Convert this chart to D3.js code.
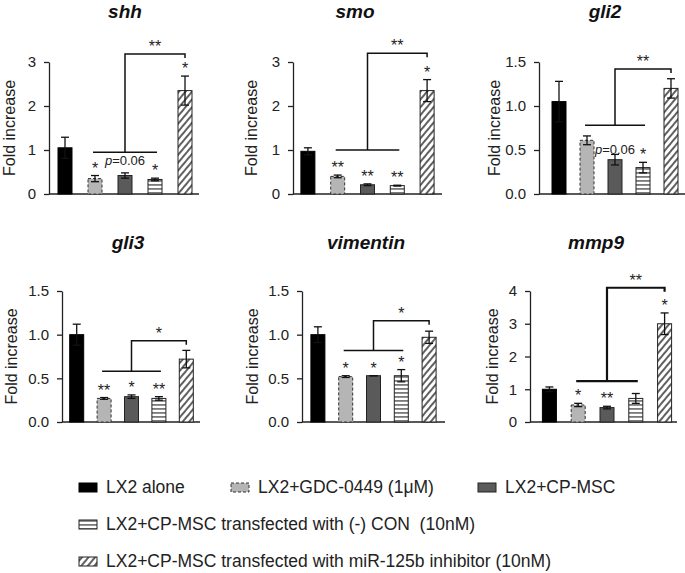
<!DOCTYPE html>
<html>
<head>
<meta charset="utf-8">
<script src="https://cdn.jsdelivr.net/npm/d3@7"></script>
<style>
  body { margin: 0; background: #fff; }
  svg { display: block; font-family: "Liberation Sans", Arial, sans-serif; }
</style>
</head>
<body>
<svg id="chart" width="685" height="573"></svg>
<script>
// treatment groups (same order in every panel)
const groups = [
  'LX2 alone',
  'LX2+GDC-0449 (1μM)',
  'LX2+CP-MSC',
  'LX2+CP-MSC transfected with (-) CON  (10nM)',
  'LX2+CP-MSC transfected with miR-125b inhibitor (10nM)'
];
const genes = ['shh', 'smo', 'gli2', 'gli3', 'vimentin', 'mmp9'];

// fold increase, mean and error
const shhMean = [1.05, 0.35, 0.42, 0.33, 2.35];
const shhErr  = [0.24, 0.07, 0.06, 0.03, 0.33];
const smoMean = [0.97, 0.40, 0.21, 0.19, 2.35];
const smoErr  = [0.08, 0.03, 0.02, 0.01, 0.25];
const gli2Mean = [1.05, 0.61, 0.39, 0.30, 1.20];
const gli2Err  = [0.23, 0.05, 0.06, 0.06, 0.11];
const gli3Mean = [1.00, 0.27, 0.29, 0.27, 0.72];
const gli3Err  = [0.12, 0.01, 0.02, 0.02, 0.10];
const vimMean = [1.00, 0.52, 0.53, 0.53, 0.97];
const vimErr  = [0.09, 0.01, 0.00, 0.07, 0.07];
const mmp9Mean = [1.00, 0.52, 0.44, 0.72, 3.00];
const mmp9Err  = [0.07, 0.05, 0.04, 0.15, 0.33];

// y tick values
const ticksInt = [0, 1, 2, 3];
const ticksHalf = [0, 0.5, 1.0, 1.5];
const ticksMmp9 = [0, 1, 2, 3, 4];

// significance marks above each bar
const shhStars = ['', '*', 'p=0.06', '*', '*'];
const smoStars = ['', '**', '**', '**', '*'];
const gli2Stars = ['', '', 'p=0.06', '*', ''];
const gli3Stars = ['', '**', '*', '**', ''];
const vimStars = ['', '*', '*', '*', ''];
const mmp9Stars = ['', '*', '**', '', '*'];

// bracket: [lower line level, upper line level, label]
const shhBracket = [0.95, 3.18, '**'];
const smoBracket = [1.0, 3.2, '**'];
const gli2Bracket = [0.78, 1.42, '**'];
const gli3Bracket = [0.58, 0.93, '*'];
const vimBracket = [0.82, 1.16, '*'];
const mmp9Bracket = [1.25, 4.1, '**'];

const panels = [
  { gene: genes[0], mean: shhMean, err: shhErr, ticks: ticksInt, fmt: 'd', stars: shhStars, bracket: shhBracket },
  { gene: genes[1], mean: smoMean, err: smoErr, ticks: ticksInt, fmt: 'd', stars: smoStars, bracket: smoBracket },
  { gene: genes[2], mean: gli2Mean, err: gli2Err, ticks: ticksHalf, fmt: '.1f', stars: gli2Stars, bracket: gli2Bracket },
  { gene: genes[3], mean: gli3Mean, err: gli3Err, ticks: ticksHalf, fmt: '.1f', stars: gli3Stars, bracket: gli3Bracket },
  { gene: genes[4], mean: vimMean, err: vimErr, ticks: ticksHalf, fmt: '.1f', stars: vimStars, bracket: vimBracket },
  { gene: genes[5], mean: mmp9Mean, err: mmp9Err, ticks: ticksMmp9, fmt: 'd', stars: mmp9Stars, bracket: mmp9Bracket }
];

// pixel layout of each panel
const layout = [
  { ax: 49, end: 199, bands: [50, 200], top: 62, base: 194, labelX: 9, titleX: 125, titleY: 18, pLift: 12, bw: 1.5 },
  { ax: 293, end: 442, bands: [293, 442], top: 62, base: 194, labelX: 251, titleX: 355, titleY: 18, pLift: 12, bw: 1.5 },
  { ax: 539, end: 685, bands: [545, 685], top: 62, base: 194, labelX: 494, titleX: 605, titleY: 18, pLift: 4, bw: 1.5 },
  { ax: 62, end: 200, bands: [63, 200], top: 291, base: 422, labelX: 11, titleX: 128, titleY: 249, pLift: 12, bw: 1.5 },
  { ax: 302, end: 445, bands: [304, 443], top: 291, base: 422, labelX: 252, titleX: 366, titleY: 249, pLift: 12, bw: 1.5 },
  { ax: 530, end: 677, bands: [535, 679], top: 291, base: 422, labelX: 492, titleX: 596, titleY: 249, pLift: 12, bw: 2.2 }
];

const svg = d3.select('#chart');
const defs = svg.append('defs');

const stripes = defs.append('pattern')
  .attr('id', 'stripes').attr('patternUnits', 'userSpaceOnUse')
  .attr('width', 6).attr('height', 4);
stripes.append('rect').attr('width', 6).attr('height', 4).attr('fill', '#fff');
stripes.append('rect').attr('width', 6).attr('height', 1.8).attr('fill', '#7a7a7a');

const hatch = defs.append('pattern')
  .attr('id', 'hatch').attr('patternUnits', 'userSpaceOnUse')
  .attr('width', 5).attr('height', 5)
  .attr('patternTransform', 'rotate(40)');
hatch.append('rect').attr('width', 5).attr('height', 5).attr('fill', '#fff');
hatch.append('line').attr('x1', 1).attr('y1', 0).attr('x2', 1).attr('y2', 5)
  .attr('stroke', '#444').attr('stroke-width', 1.7);

const fills = ['#000', '#b5b5b5', '#5a5a5a', 'url(#stripes)', 'url(#hatch)'];
const strokes = ['#000', '#333', '#222', '#222', '#222'];
const dashes = [null, '3,2', null, null, null];
const barW = 14;

panels.forEach((p, i) => {
  const L = layout[i];
  const g = svg.append('g');
  const yMax = p.ticks[p.ticks.length - 1];
  const y = d3.scaleLinear().domain([0, yMax]).range([L.base, L.top]);
  const x = d3.scaleBand().domain(d3.range(groups.length)).range(L.bands).padding(0);
  const cx = k => x(k) + x.bandwidth() / 2;

  // y axis
  const yAxis = g.append('g')
    .attr('transform', `translate(${L.ax},0)`)
    .call(d3.axisLeft(y).tickValues(p.ticks).tickFormat(d3.format(p.fmt))
      .tickSize(5).tickSizeOuter(0).tickPadding(8));
  yAxis.select('.domain').attr('stroke', '#222').attr('stroke-width', 1.3);
  yAxis.selectAll('.tick line').attr('stroke', '#222').attr('stroke-width', 1.3);
  yAxis.selectAll('.tick text').attr('font-size', 15).attr('fill', '#222')
    .attr('font-family', '"Liberation Sans", Arial, sans-serif');

  // baseline
  g.append('line')
    .attr('x1', L.ax).attr('x2', L.end).attr('y1', L.base).attr('y2', L.base)
    .attr('stroke', '#222').attr('stroke-width', 1.3);

  // axis label
  g.append('text')
    .attr('transform', `translate(${L.labelX},${(L.top + L.base) / 2}) rotate(-90)`)
    .attr('text-anchor', 'middle').attr('dominant-baseline', 'central')
    .attr('font-size', 16).attr('fill', '#222')
    .text('Fold increase');

  // title
  g.append('text')
    .attr('x', L.titleX).attr('y', L.titleY)
    .attr('text-anchor', 'middle')
    .attr('font-size', 19).attr('font-weight', 'bold').attr('font-style', 'italic')
    .attr('fill', '#111')
    .text(p.gene);

  // bars
  g.selectAll('rect.bar').data(p.mean).enter().append('rect')
    .attr('class', 'bar')
    .attr('x', (d, k) => cx(k) - barW / 2)
    .attr('width', barW)
    .attr('y', d => y(d))
    .attr('height', d => L.base - y(d))
    .attr('fill', (d, k) => fills[k])
    .attr('stroke', (d, k) => strokes[k])
    .attr('stroke-width', 1)
    .attr('stroke-dasharray', (d, k) => dashes[k]);

  // error bars
  const eb = g.selectAll('g.err').data(p.mean).enter().append('g').attr('class', 'err')
    .attr('stroke', '#111').attr('stroke-width', 1.3);
  eb.append('line')
    .attr('x1', (d, k) => cx(k)).attr('x2', (d, k) => cx(k))
    .attr('y1', (d, k) => y(d - p.err[k])).attr('y2', (d, k) => y(d + p.err[k]));
  eb.append('line')
    .attr('x1', (d, k) => cx(k) - 4).attr('x2', (d, k) => cx(k) + 4)
    .attr('y1', (d, k) => y(d + p.err[k])).attr('y2', (d, k) => y(d + p.err[k]));
  eb.append('line')
    .attr('x1', (d, k) => cx(k) - 4).attr('x2', (d, k) => cx(k) + 4)
    .attr('y1', (d, k) => y(d - p.err[k])).attr('y2', (d, k) => y(d - p.err[k]));

  // marks above bars
  p.stars.forEach((s, k) => {
    if (!s) return;
    const topY = y(p.mean[k] + p.err[k]);
    if (s.startsWith('p=')) {
      const t = g.append('text')
        .attr('x', cx(k)).attr('y', topY - L.pLift + 4)
        .attr('text-anchor', 'middle').attr('font-size', 13).attr('fill', '#222');
      t.append('tspan').attr('font-style', 'italic').text('p');
      t.append('tspan').text(s.slice(1));
    } else {
      g.append('text')
        .attr('x', cx(k)).attr('y', topY - 2)
        .attr('text-anchor', 'middle').attr('font-size', 16).attr('fill', '#222')
        .text(s);
    }
  });

  // bracket
  const [lo, hi, lab] = p.bracket;
  const bg = g.append('g').attr('fill', 'none').attr('stroke', '#111').attr('stroke-width', L.bw);
  bg.append('line').attr('x1', cx(1) - 2).attr('x2', cx(3) + 2).attr('y1', y(lo)).attr('y2', y(lo));
  bg.append('path').attr('d', `M${cx(2)},${y(lo)}V${y(hi)}H${cx(4)}v4`);
  g.append('text')
    .attr('x', (cx(2) + cx(4)) / 2).attr('y', y(hi) - 2)
    .attr('text-anchor', 'middle').attr('font-size', 16).attr('fill', '#222')
    .text(lab);
});

// legend
const legendPos = [
  { x: 79, y: 493 }, { x: 231, y: 493 }, { x: 478, y: 493 },
  { x: 79, y: 530 }, { x: 79, y: 567 }
];
const lg = svg.append('g');
groups.forEach((name, k) => {
  const pos = legendPos[k];
  lg.append('rect')
    .attr('x', pos.x).attr('y', pos.y - 10).attr('width', 18).attr('height', 9)
    .attr('fill', fills[k]).attr('stroke', strokes[k]).attr('stroke-width', 1)
    .attr('stroke-dasharray', dashes[k]);
  lg.append('text')
    .attr('x', pos.x + 27).attr('y', pos.y)
    .attr('font-size', 17.5).attr('fill', '#222')
    .style('white-space', 'pre')
    .text(name);
});
</script>
</body>
</html>
